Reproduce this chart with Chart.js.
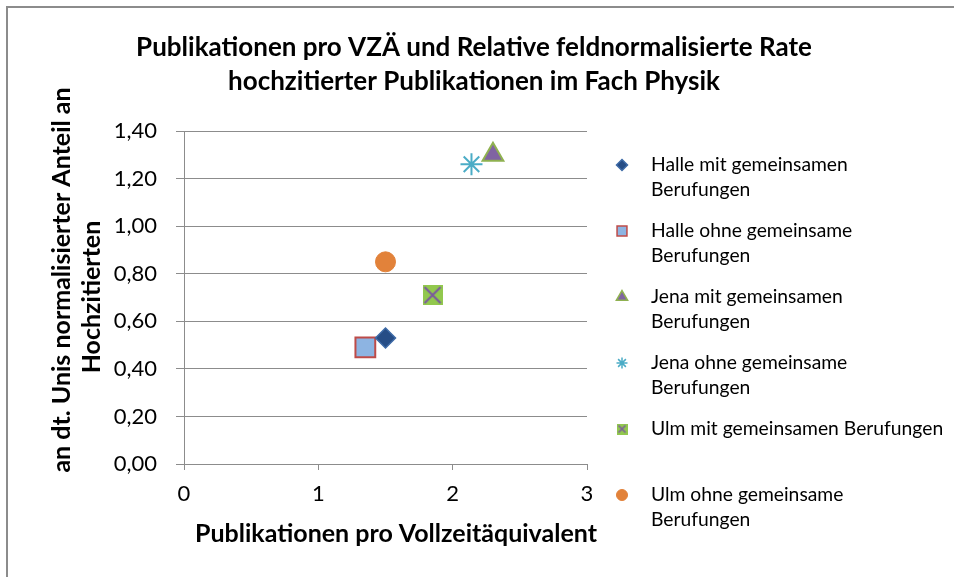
<!DOCTYPE html>
<html>
<head>
<meta charset="utf-8">
<script src="https://cdn.jsdelivr.net/npm/chart.js@4/dist/chart.umd.min.js"></script>
<style>
  html, body { margin: 0; padding: 0; background: #fff; }
  canvas { display: block; }
</style>
</head>
<body>
<canvas id="chart" width="954" height="577"></canvas>
<script>
// values
const seriesNames = [
  "Halle mit gemeinsamen Berufungen",
  "Halle ohne gemeinsame Berufungen",
  "Jena mit gemeinsamen Berufungen",
  "Jena ohne gemeinsame Berufungen",
  "Ulm mit gemeinsamen Berufungen",
  "Ulm ohne gemeinsame Berufungen"
];
const pubsPerFte = [1.50, 1.35, 2.30, 2.14, 1.85, 1.50];
const highlyCitedShare = [0.53, 0.49, 1.30, 1.26, 0.71, 0.85];
const xTicks = [0, 1, 2, 3];
const yTicks = [0, 0.2, 0.4, 0.6, 0.8, 1.0, 1.2, 1.4];

const chartTitle = [
  "Publikationen pro VZÄ und Relative feldnormalisierte Rate",
  "hochzitierter Publikationen im Fach Physik"
];
const xTitle = "Publikationen pro Vollzeitäquivalent";
const yTitle = ["an dt. Unis normalisierter Anteil an", "Hochzitierten"];

const FONT = "Lato, 'Open Sans', sans-serif";

// green square with purple cross (Excel "x" on square marker)
function crossBox(size) {
  const c = document.createElement("canvas");
  c.width = size; c.height = size;
  const g = c.getContext("2d");
  g.fillStyle = "#92c84e";
  g.fillRect(0, 0, size, size);
  g.strokeStyle = "#7a5a9e";
  g.lineWidth = Math.max(1.5, size / 10);
  g.beginPath();
  g.moveTo(2, 2); g.lineTo(size - 2, size - 2);
  g.moveTo(size - 2, 2); g.lineTo(2, size - 2);
  g.stroke();
  return c;
}

const markers = [
  { style: "rectRot", r: 10, lr: 5.5, bg: "#264d86", border: "#3d6aa6", bw: 1.5 },
  { style: "rect", r: 14, lr: 7, bg: "#8db4e2", border: "#be4b48", bw: 2 },
  { style: "triangle", r: 12, lr: 6.5, bg: "#8064a2", border: "#8fb150", bw: 2 },
  { style: "star", r: 11, lr: 5.5, bg: "#4bacc6", border: "#4bacc6", bw: 2 },
  { style: crossBox(20), legendStyle: crossBox(11), r: 10, lr: 5.5, bg: "#92c84e", border: "#7a5a9e", bw: 1 },
  { style: "circle", r: 10, lr: 5.5, bg: "#e2823a", border: "#e2823a", bw: 1 }
];

const datasets = seriesNames.map((name, i) => ({
  label: name,
  data: [{ x: pubsPerFte[i], y: highlyCitedShare[i] }],
  pointStyle: markers[i].style,
  pointRadius: markers[i].r,
  pointHoverRadius: markers[i].r,
  backgroundColor: markers[i].bg,
  borderColor: markers[i].border,
  borderWidth: markers[i].bw
}));

const decor = {
  id: "decor",
  beforeDraw(chart) {
    const ctx = chart.ctx;
    ctx.save();
    ctx.fillStyle = "#fff";
    ctx.fillRect(0, 0, chart.width, chart.height);
    ctx.strokeStyle = "#8c8c8c";
    ctx.lineWidth = 2;
    ctx.beginPath();
    ctx.moveTo(7, chart.height);
    ctx.lineTo(7, 7);
    ctx.lineTo(chart.width, 7);
    ctx.stroke();
    ctx.restore();
  },
  afterDraw(chart) {
    const ctx = chart.ctx;
    ctx.save();
    // title
    ctx.fillStyle = "#000";
    ctx.font = "bold 26px " + FONT;
    ctx.textAlign = "center";
    ctx.textBaseline = "middle";
    chartTitle.forEach((t, i) => ctx.fillText(t, 474, 48 + i * 34));

    // x axis title (sits a bit right of the plot centre, as in Excel)
    ctx.font = "bold 25px " + FONT;
    ctx.fillText(xTitle, 396, 534);

    // y axis title, two rotated lines
    const yPos = [[62, 280], [92, 297]];
    yTitle.forEach((t, i) => {
      ctx.save();
      ctx.translate(yPos[i][0], yPos[i][1]);
      ctx.rotate(-Math.PI / 2);
      ctx.fillText(t, 0, 0);
      ctx.restore();
    });

    // legend
    ctx.font = "19.3px " + FONT;
    ctx.textAlign = "left";
    const maxW = 293;
    let y = 165;
    chart.data.datasets.forEach((ds, i) => {
      const m = markers[i];
      ctx.fillStyle = m.bg;
      ctx.strokeStyle = m.border;
      ctx.lineWidth = m.bw > 1 ? 1.5 : 1;
      Chart.helpers.drawPoint(ctx, {
        pointStyle: m.legendStyle || m.style,
        radius: m.lr,
        rotation: 0,
        borderWidth: ctx.lineWidth
      }, 622, y);
      // wrap the label
      const words = ds.label.split(" ");
      const lines = [];
      let cur = "";
      words.forEach(w => {
        const test = cur ? cur + " " + w : w;
        if (ctx.measureText(test).width > maxW && cur) {
          lines.push(cur);
          cur = w;
        } else {
          cur = test;
        }
      });
      lines.push(cur);
      ctx.fillStyle = "#000";
      lines.forEach((l, k) => ctx.fillText(l, 651, y + k * 25));
      y += 66;
    });
    ctx.restore();
  }
};

new Chart(document.getElementById("chart"), {
  type: "scatter",
  data: { datasets },
  plugins: [decor],
  options: {
    responsive: false,
    animation: false,
    devicePixelRatio: 1,
    layout: { padding: { top: 131, right: 367, left: 0, bottom: 0 } },
    plugins: {
      legend: { display: false },
      title: { display: false },
      tooltip: { enabled: false }
    },
    scales: {
      x: {
        type: "linear",
        min: 0,
        max: 3,
        afterFit(scale) { scale.height = 113; },
        afterBuildTicks(scale) { scale.ticks = xTicks.map(v => ({ value: v })); },
        border: { display: true, color: "#8c8c8c", width: 1 },
        grid: { drawOnChartArea: false, drawTicks: true, tickLength: 6, color: "#8c8c8c" },
        ticks: {
          color: "#000",
          padding: 11,
          font: { family: FONT, size: 22 },
          callback: v => String(v)
        },
        title: { display: false }
      },
      y: {
        type: "linear",
        min: 0,
        max: 1.4,
        afterFit(scale) { scale.width = 184; },
        afterBuildTicks(scale) { scale.ticks = yTicks.map(v => ({ value: v })); },
        border: { display: true, color: "#8c8c8c", width: 1 },
        grid: { drawTicks: true, tickLength: 8, color: "#8c8c8c", lineWidth: 1 },
        ticks: {
          color: "#000",
          padding: 19,
          font: { family: FONT, size: 22 },
          callback: v => v.toFixed(2).replace(".", ",")
        },
        title: { display: false }
      }
    }
  }
});
</script>
</body>
</html>
